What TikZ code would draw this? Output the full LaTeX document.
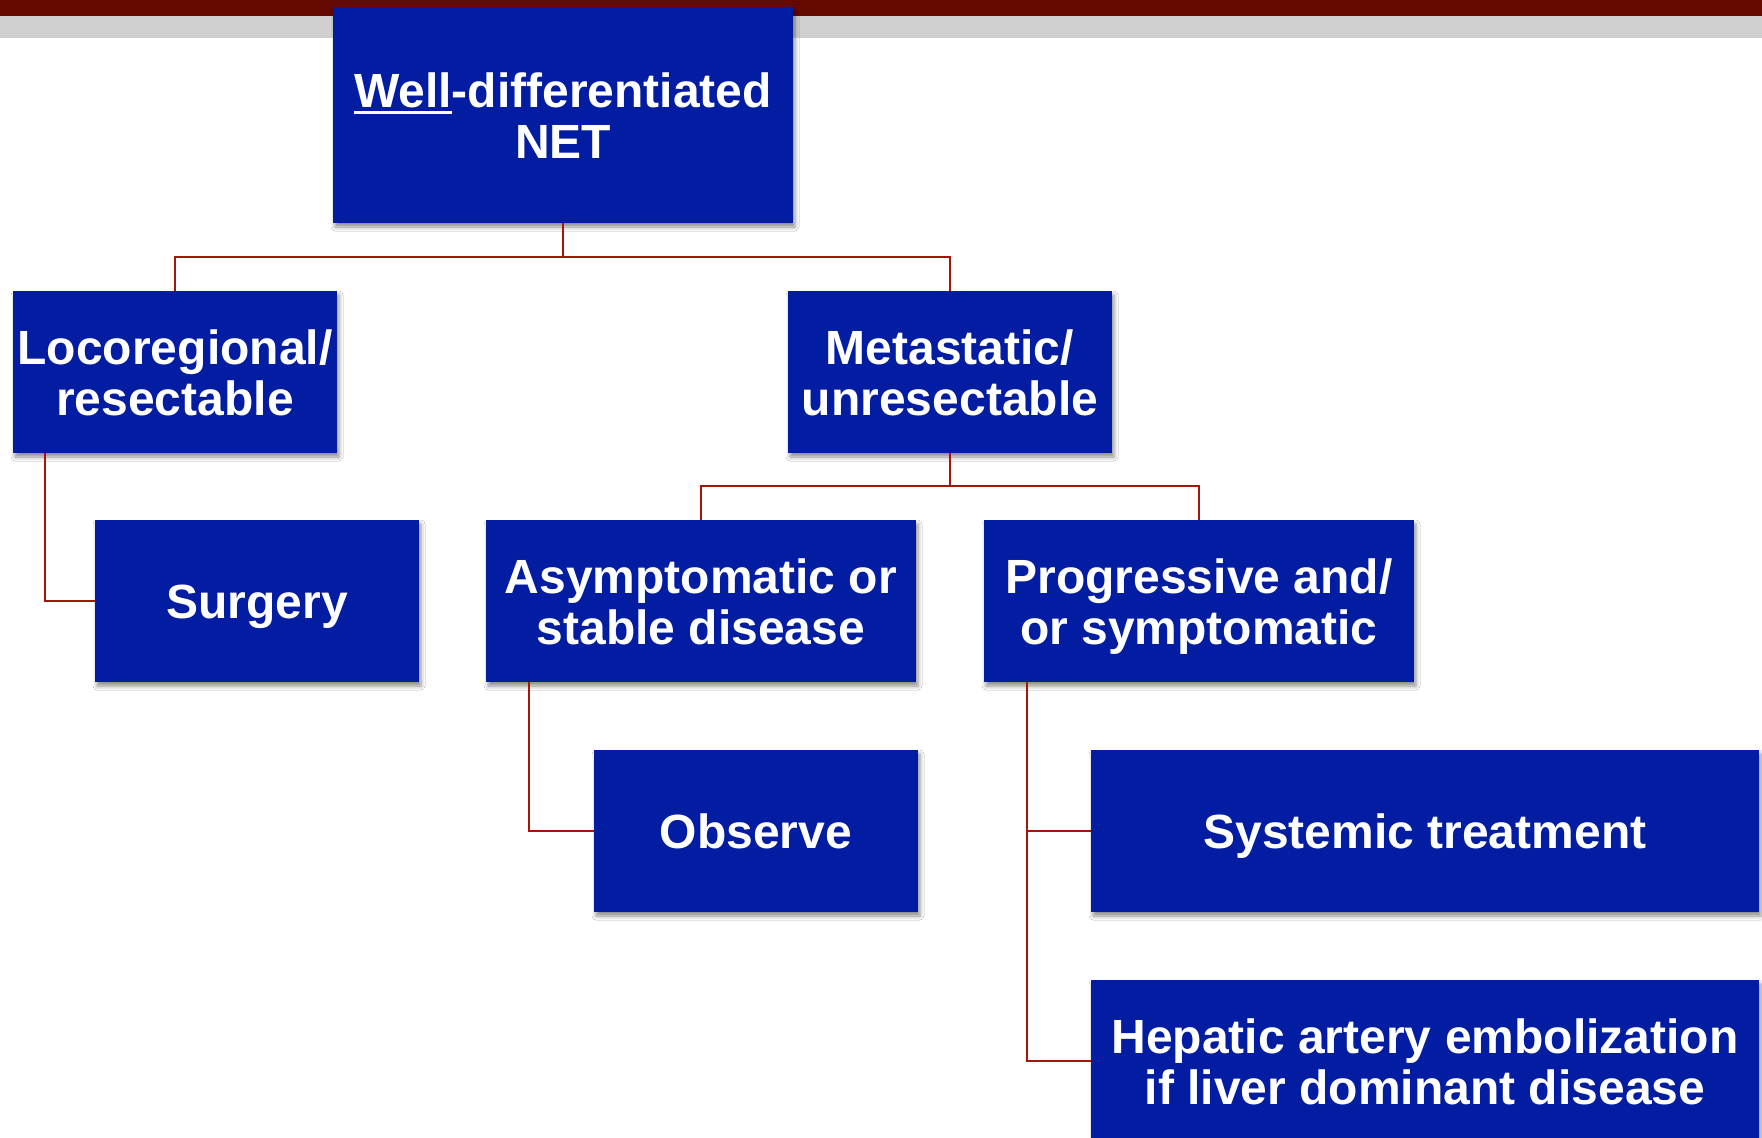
\documentclass[tikz,border=0pt]{standalone}
\usepackage{fontspec}
\setmainfont{Liberation Sans}
\usetikzlibrary{shadows.blur}
\definecolor{boxblue}{RGB}{2,29,161}
\definecolor{barred}{RGB}{100,8,0}
\definecolor{bargrey}{RGB}{208,208,208}
\definecolor{linkred}{RGB}{165,22,10}
\newcommand\wellul[1]{\setbox0\hbox{#1}\rlap{\rule[-7pt]{\wd0}{2.6pt}}\box0}
\newcommand\tstr{\rule{0pt}{48pt}}
\newcommand\bstr{\rule[-13pt]{0pt}{13pt}}
\tikzset{
  boxnode/.style={fill=boxblue, draw=none, text=white, align=center, inner sep=0pt,
    font=\fontsize{48}{51}\selectfont\bfseries,
    blur shadow={shadow xshift=2pt, shadow yshift=-4pt, shadow blur radius=4pt, shadow opacity=45}},
  link/.style={draw=linkred, line width=2.2pt}
}
\begin{document}
\begin{tikzpicture}[x=1pt,y=-1pt]
\useasboundingbox (0,0) rectangle (1762,1138);
\fill[white] (0,0) rectangle (1762,1138);
\fill[barred] (0,0) rectangle (1762,16);
\fill[bargrey] (0,16) rectangle (1762,38);

\node[boxnode, minimum width=460pt, minimum height=216pt] (top) at (563,115) {\tstr\wellul{Well}-differentiated\\NET\bstr};
\node[boxnode, minimum width=324pt, minimum height=162pt] (loco) at (175,372) {\tstr Locoregional/\\resectable\bstr};
\node[boxnode, minimum width=324pt, minimum height=162pt] (meta) at (950,372) {\tstr Metastatic/\\unresectable\bstr};
\node[boxnode, minimum width=324pt, minimum height=162pt] (surg) at (257,601) {\tstr Surgery\bstr};
\node[boxnode, minimum width=430pt, minimum height=162pt] (asym) at (701,601) {\tstr Asymptomatic or\\stable disease\bstr};
\node[boxnode, minimum width=430pt, minimum height=162pt] (prog) at (1199,601) {\tstr Progressive and/\\or symptomatic\bstr};
\node[boxnode, minimum width=324pt, minimum height=162pt] (obs) at (756,831) {\tstr Observe\bstr};
\node[boxnode, minimum width=668pt, minimum height=162pt] (sys) at (1425,831) {\tstr Systemic treatment\bstr};
\node[boxnode, minimum width=668pt, minimum height=162pt] (hep) at (1425,1061) {\tstr Hepatic artery embolization\\if liver dominant disease\bstr};

\coordinate (j1) at (563,257);
\coordinate (j2) at (950,486);
\draw[link] (top.south) -- (j1);
\draw[link] (j1) -| (loco.north);
\draw[link] (j1) -| (meta.north);
\draw[link] (meta.south) -- (j2);
\draw[link] (j2) -| (asym.north);
\draw[link] (j2) -| (prog.north);
\draw[link] ([xshift=32pt]loco.south west) |- (surg.west);
\draw[link] ([xshift=43pt]asym.south west) |- (obs.west);
\draw[link] ([xshift=43pt]prog.south west) |- (sys.west);
\draw[link] ([xshift=43pt]prog.south west) |- (hep.west);
\end{tikzpicture}
\end{document}
